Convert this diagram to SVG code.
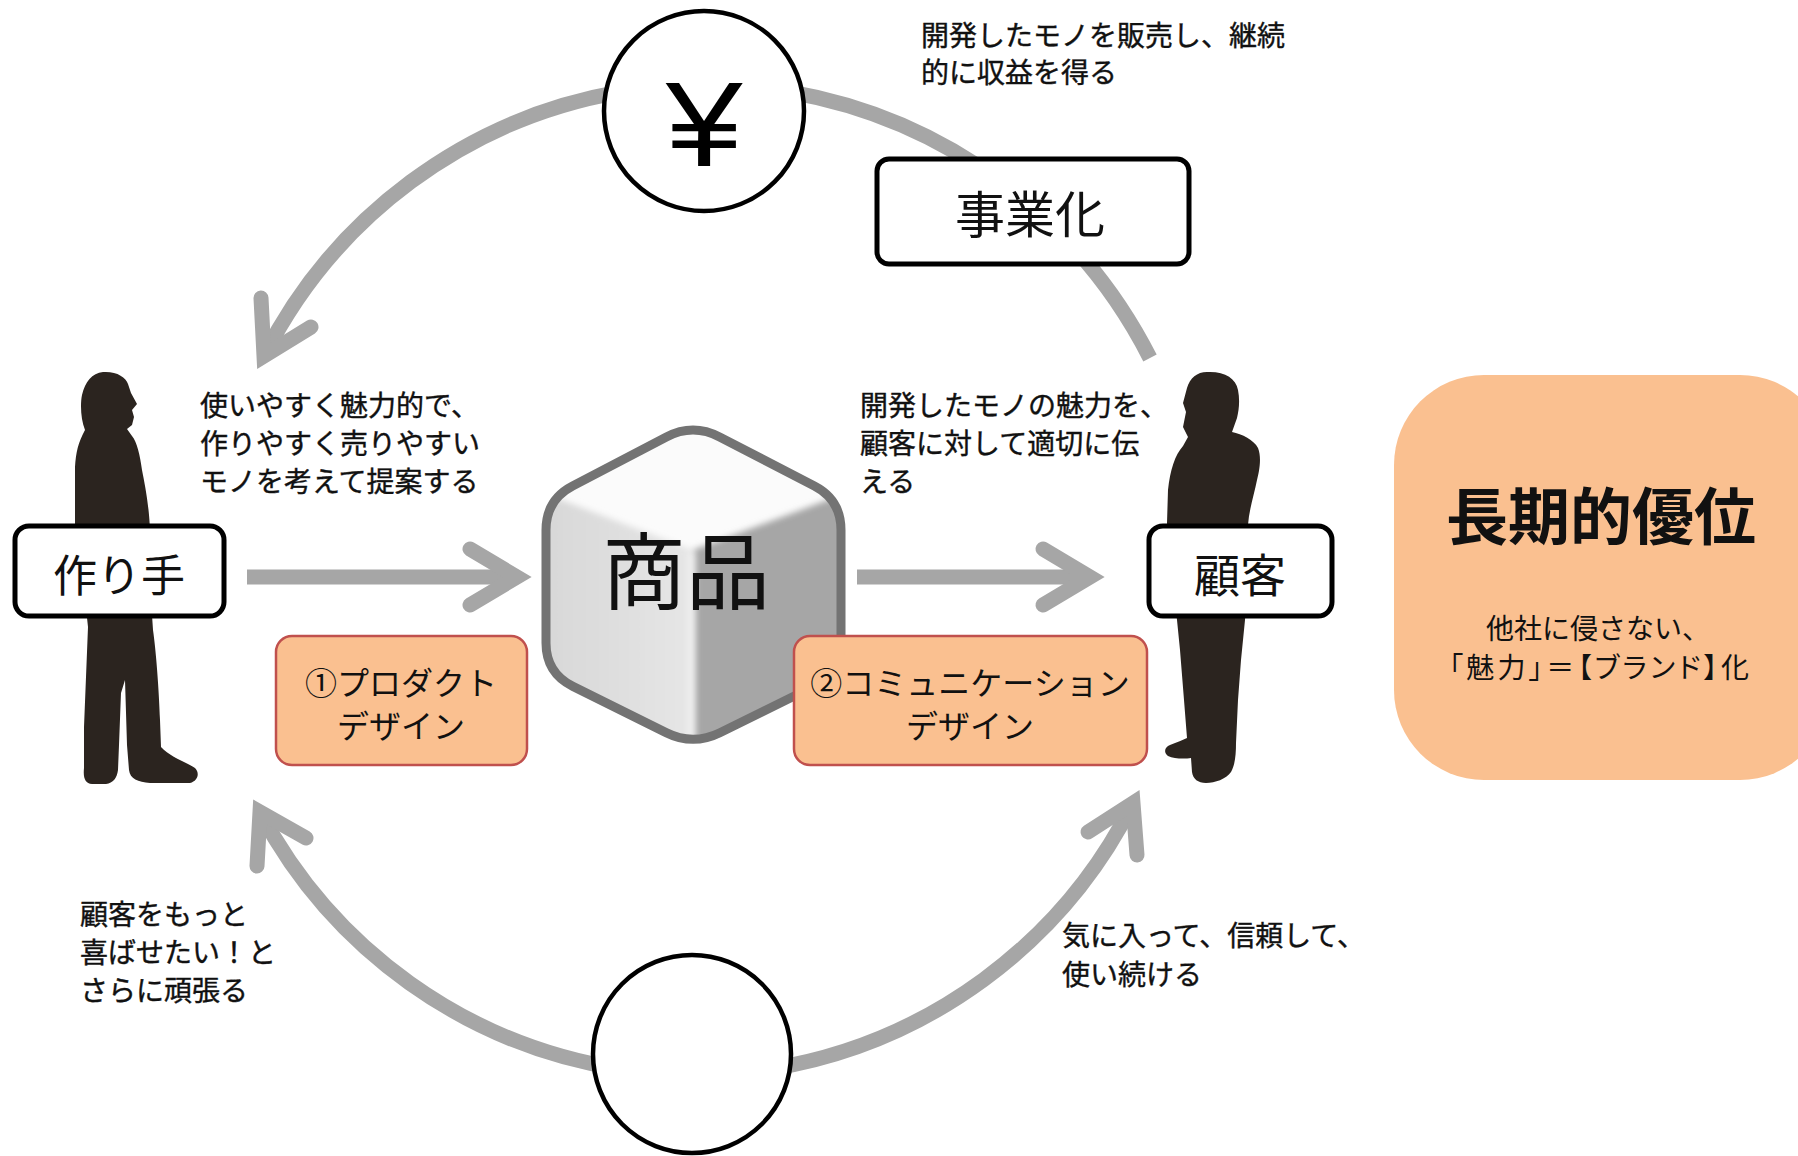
<svg xmlns="http://www.w3.org/2000/svg" width="1798" height="1156" viewBox="0 0 1798 1156">
  <style>
    .t { font-family: "Noto Sans CJK JP", "Noto Sans", sans-serif; fill: #111; }
    .body { font-size: 28px; stroke: #111; stroke-width: 0.4; }
    .shaft { fill: none; stroke: #a6a6a6; stroke-width: 15; stroke-linecap: butt; }
    .head { fill: none; stroke: #a6a6a6; stroke-width: 15; stroke-linecap: round; stroke-linejoin: miter; stroke-miterlimit: 10; }
    .label { fill: #fff; stroke: #000; stroke-width: 5; }
    .design { fill: #fac090; stroke: #c0504d; stroke-width: 2.5; }
    .person { fill: #2b241f; }
    .ring { fill: #fff; stroke: #000; stroke-width: 4.5; }
  </style>
  <defs>
    <clipPath id="cubeClip">
      <path d="M 666.4 436.9 Q 693 423 719.6 436.9 L 814.4 486.1 Q 841 500 841 530 L 841 643 Q 841 673 814.1 686.3 L 719.9 732.7 Q 693 746 666.1 732.6 L 572.9 686.4 Q 546 673 546 643 L 546 530 Q 546 500 572.6 486.1 Z"/>
    </clipPath>
    <filter id="soft" x="-10%" y="-10%" width="120%" height="120%">
      <feGaussianBlur stdDeviation="3"/>
    </filter>
    <linearGradient id="leftFace" x1="0" y1="0" x2="1" y2="0">
      <stop offset="0" stop-color="#d6d6d6"/>
      <stop offset="1" stop-color="#e6e6e6"/>
    </linearGradient>
  </defs>

  <!-- cycle and flow arrows -->
  <g id="connectors">
    <path class="shaft" d="M 620 92 A 494 494 0 0 0 264 356"/>
    <path class="head" d="M 261 298 L 264 356 L 311 327"/>
    <path class="shaft" d="M 790 92 A 500 500 0 0 1 1150 358"/>
    <path class="shaft" d="M 620 1069 A 494 494 0 0 1 260 812"/>
    <path class="head" d="M 257 866 L 260 812 L 306 838"/>
    <path class="shaft" d="M 770 1069 A 494 494 0 0 0 1133 803"/>
    <path class="head" d="M 1137 855 L 1133 803 L 1088 832"/>
    <path class="shaft" d="M 247 577 H 512"/>
    <path class="head" d="M 470 549 L 517 577 L 470 605"/>
    <path class="shaft" d="M 857 577 H 1085"/>
    <path class="head" d="M 1043 549 L 1090 577 L 1043 605"/>
  </g>

  <!-- revenue -->
  <g id="node-yen">
    <circle class="ring" cx="704" cy="111" r="100"/>
    <text font-family="Liberation Sans, Arial, sans-serif" font-size="120" fill="#000" text-anchor="middle" transform="translate(704 166) scale(1.15 1)">¥</text>
  </g>

  <g id="node-cycle-bottom">
    <circle class="ring" cx="692" cy="1054" r="99"/>
  </g>

  <!-- maker -->
  <g id="node-maker">
    <path class="person" d="M 103 372 C 116 371, 126 377, 128 384 L 131 393 L 137 404 L 132 410 L 134 417 L 132 425 L 127 429 L 132 436 C 137 442, 140 455, 142 470 C 145 485, 149 505, 150 530 L 151 600 L 153 630 C 156 650, 159 690, 160 720 L 161 747 C 170 757, 186 762, 195 768 C 200 773, 198 781, 190 783 L 150 783 C 138 782, 130 779, 129 770 L 127 745 L 125 680 L 121 693 L 119 745 L 118 770 C 117 778, 113 783, 106 784 L 92 784 C 85 783, 83 778, 84 768 L 84 727 L 86 677 L 88 627 L 84 590 L 75 525 L 75 467 C 76 452, 78 443, 85 430 C 81 420, 80 405, 82 395 C 85 382, 92 373, 103 372 Z"/>
    <rect class="label" x="15" y="526" width="209" height="90" rx="14"/>
    <text class="t" x="119" y="592" font-size="44" text-anchor="middle">作り手</text>
  </g>

  <!-- customer -->
  <g id="node-customer">
    <path class="person" d="M 1207 372 C 1224 371, 1236 378, 1238 390 C 1240 400, 1239 410, 1237 418 L 1232 432 C 1242 434, 1254 440, 1258 448 C 1262 458, 1259 472, 1257 480 C 1254 495, 1249 510, 1248 525 L 1246 600 L 1245 620 L 1241 660 L 1238 700 L 1236 743 C 1236 755, 1235 765, 1231 772 C 1226 779, 1215 783, 1206 783 C 1198 783, 1193 779, 1192 772 L 1191 758 C 1185 759, 1174 759, 1168 756 C 1163 752, 1165 747, 1170 745 C 1177 742, 1183 740, 1187 738 L 1184 700 L 1180 650 L 1177 620 L 1170 560 L 1167 523 L 1168 490 C 1170 470, 1175 455, 1183 446 L 1188 437 L 1183 427 L 1186 412 L 1183 403 L 1187 388 C 1190 378, 1197 372, 1207 372 Z"/>
    <rect class="label" x="1149" y="526" width="183" height="90" rx="14"/>
    <text class="t" x="1240" y="592" font-size="46" text-anchor="middle">顧客</text>
  </g>

  <!-- product cube -->
  <g id="node-product">
    <g clip-path="url(#cubeClip)">
      <rect x="540" y="415" width="310" height="340" fill="#fbfbfb"/>
      <g filter="url(#soft)">
        <polygon points="530,488 693,550 693,770 530,770" fill="url(#leftFace)"/>
        <polygon points="693,550 860,488 860,770 693,770" fill="#a6a6a6"/>
        <line x1="692" y1="552" x2="692" y2="760" stroke="#f4f4f4" stroke-width="6"/>
      </g>
    </g>
    <path d="M 666.4 436.9 Q 693 423 719.6 436.9 L 814.4 486.1 Q 841 500 841 530 L 841 643 Q 841 673 814.1 686.3 L 719.9 732.7 Q 693 746 666.1 732.6 L 572.9 686.4 Q 546 673 546 643 L 546 530 Q 546 500 572.6 486.1 Z" fill="none" stroke="#737373" stroke-width="9"/>
    <text class="t" x="686" y="603" font-size="84" text-anchor="middle" fill="#000">商品</text>
  </g>

  <g id="node-business">
    <rect class="label" x="877" y="159" width="312" height="105" rx="12"/>
    <text class="t" x="1030" y="233" font-size="50" text-anchor="middle">事業化</text>
  </g>

  <g id="node-product-design">
    <rect class="design" x="276" y="636" width="251" height="129" rx="16"/>
    <text class="t" x="401" y="695" font-size="32" text-anchor="middle">①プロダクト</text>
    <text class="t" x="401" y="738" font-size="32" text-anchor="middle">デザイン</text>
  </g>

  <g id="node-comm-design">
    <rect class="design" x="794" y="636" width="353" height="129" rx="16"/>
    <text class="t" x="970" y="695" font-size="32" text-anchor="middle">②コミュニケーション</text>
    <text class="t" x="970" y="738" font-size="32" text-anchor="middle">デザイン</text>
  </g>

  <g id="node-advantage">
    <rect x="1394" y="375" width="436" height="405" rx="90" fill="#fac090"/>
    <text class="t" x="1601" y="540" font-size="62" font-weight="700" text-anchor="middle">長期的優位</text>
    <text class="t" x="1486" y="639" font-size="28">他社に侵さない、</text>
    <text class="t" x="1449" y="678" font-size="28" style="font-feature-settings: 'palt'" textLength="300" lengthAdjust="spacing">「魅力」＝【ブランド】化</text>
  </g>

  <!-- annotations -->
  <g id="notes" class="t body">
    <text x="921" y="46">開発したモノを販売し、継続</text>
    <text x="921" y="83">的に収益を得る</text>
    <text x="200" y="416">使いやすく魅力的で、</text>
    <text x="200" y="454">作りやすく売りやすい</text>
    <text x="200" y="492">モノを考えて提案する</text>
    <text x="860" y="416">開発したモノの魅力を、</text>
    <text x="860" y="454">顧客に対して適切に伝</text>
    <text x="860" y="492">える</text>
    <text x="80" y="925">顧客をもっと</text>
    <text x="80" y="963">喜ばせたい！と</text>
    <text x="80" y="1001">さらに頑張る</text>
    <text x="1062" y="946">気に入って、信頼して、</text>
    <text x="1062" y="985">使い続ける</text>
  </g>
</svg>
